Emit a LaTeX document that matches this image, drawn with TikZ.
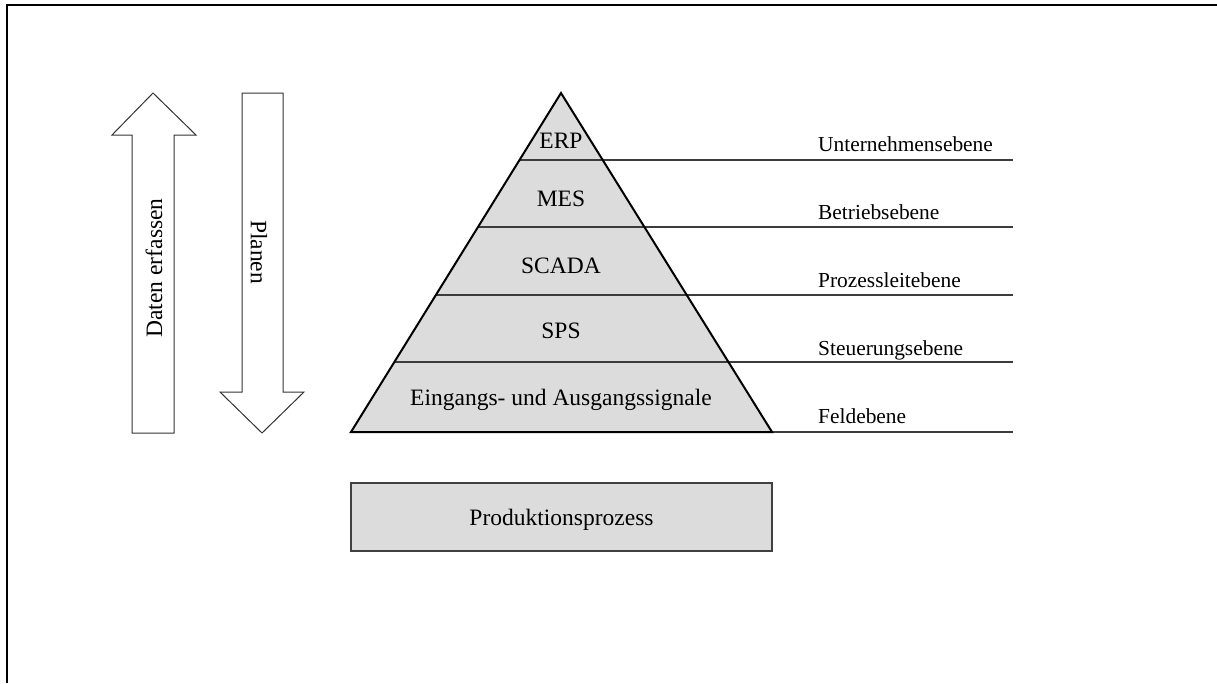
\documentclass[tikz,border=0pt]{standalone}
\usepackage{fontspec}
\setmainfont{Liberation Serif}
\definecolor{levelfill}{RGB}{220,220,220}
\definecolor{levelline}{RGB}{60,60,60}
\begin{document}
\begin{tikzpicture}[x=1pt,y=-1pt,
  bigtxt/.style={font=\fontsize{23.5}{28}\selectfont, inner sep=0pt},
  sidetxt/.style={font=\fontsize{21.4}{26}\selectfont, inner sep=0pt, anchor=base west},
  levelrule/.style={draw=levelline, line width=1.4pt},
  siderule/.style={draw=levelline, line width=1.1pt},
  hollowarrow/.style={draw=black!80, line width=1pt, fill=white, line join=miter},
  framerule/.style={draw=black, line width=2.4pt}]
\useasboundingbox (0,0) rectangle (1217,683);

% page frame (top and left edge)
\draw[framerule] (7,683) -- (7,5) -- (1217,5);

% hollow block arrows
\draw[hollowarrow] (132,433) -- (132,135) -- (112,135) -- (153,93) -- (196,135) -- (174,135) -- (174,433) -- cycle;
\draw[hollowarrow] (242,93) -- (283,93) -- (283,392) -- (304,392) -- (262,433) -- (220,392) -- (242,392) -- cycle;
\node[bigtxt, rotate=90] (daten) at (154,268) {Daten erfassen};
\node[bigtxt, rotate=-90] (planen) at (259,252) {Planen};

% pyramid
\coordinate (apex) at (561,93);
\coordinate (bl) at (351,432);
\coordinate (br) at (772,432);
\fill[levelfill] (apex) -- (bl) -- (br) -- cycle;

\coordinate (l1) at (519.4,160); \coordinate (r1) at (602.6,160);
\coordinate (l2) at (477.8,227); \coordinate (r2) at (644.2,227);
\coordinate (l3) at (435.6,295); \coordinate (r3) at (686.4,295);
\coordinate (l4) at (393.9,362); \coordinate (r4) at (728.1,362);
\coordinate (s3) at (757,295);

\draw[levelrule] (l1) -- (r1);
\draw[levelrule] (l2) -- (r2);
\draw[levelrule] (l3) -- (s3);
\draw[levelrule] (l4) -- (r4);

% labels of the levels to the right
\coordinate (e1) at (1013,160);
\coordinate (e2) at (1013,227);
\coordinate (e3) at (1013,295);
\coordinate (e4) at (1013,362);
\coordinate (e5) at (1013,432);
\draw[siderule] (r1) -- (e1);
\draw[siderule] (r2) -- (e2);
\draw[siderule] (r3) -- (e3);
\draw[siderule] (r4) -- (e4);
\draw[siderule] (br) -- (e5);

\draw[black, line width=2pt, line join=miter] (apex) -- (bl) -- (br) -- cycle;

\node[bigtxt, anchor=base] (erp) at (561,148) {ERP};
\node[bigtxt, anchor=base] (mes) at (561,206) {MES};
\node[bigtxt, anchor=base] (scada) at (561,273) {SCADA};
\node[bigtxt, anchor=base] (sps) at (561,338) {SPS};
\node[bigtxt, anchor=base] (io) at (561,405) {Eingangs- und Ausgangssignale};

\node[sidetxt] (ue) at (818,151) {Unternehmensebene};
\node[sidetxt] (be) at (818,219) {Betriebsebene};
\node[sidetxt] (pl) at (818,287) {Prozessleitebene};
\node[sidetxt] (st) at (818,355) {Steuerungsebene};
\node[sidetxt] (fe) at (818,423) {Feldebene};

% production process box
\draw[fill=levelfill, draw=black!75, line width=1.3pt] (351,483) rectangle (772,551);
\node[bigtxt, anchor=base] (prod) at (561.5,525) {Produktionsprozess};
\end{tikzpicture}
\end{document}
